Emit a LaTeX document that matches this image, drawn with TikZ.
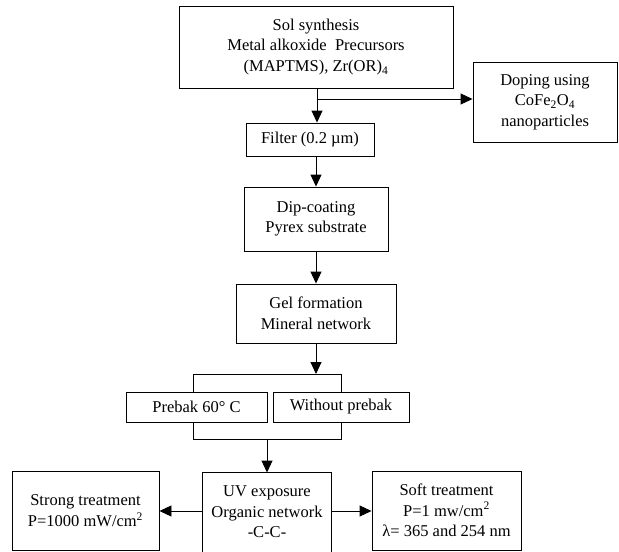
\documentclass[tikz,border=0pt]{standalone}
\usepackage{fontspec}
\setmainfont{Liberation Serif}
\usetikzlibrary{arrows.meta,calc}
\begin{document}
\begin{tikzpicture}[x=1pt,y=-1pt,
  box/.style={draw, line width=0.9pt, inner sep=0pt, align=center, font=\fontsize{16.5}{20.5}\selectfont},
  arr/.style={line width=0.9pt, -{Triangle[length=12pt,width=11pt]}},
  ln/.style={line width=0.9pt}]
\useasboundingbox (0,0) rectangle (619,552);
\node[box, minimum width=274pt, minimum height=82pt] (sol) at (316,47) {Sol synthesis\\Metal alkoxide~~Precursors\\(MAPTMS), Zr(OR)\textsubscript{4}};
\node[box, minimum width=144pt, minimum height=80pt] (dop) at (545,102) {Doping using\\CoFe\textsubscript{2}O\textsubscript{4}\\nanoparticles};
\node[box, minimum width=128pt, minimum height=33pt] (filt) at (310,139.5) {Filter (0.2 µm)};
\node[box, minimum width=144pt, minimum height=64pt] (dip) at (316,219) {Dip-coating\\Pyrex substrate};
\node[box, minimum width=160pt, minimum height=59pt] (gel) at (316,313.5) {Gel formation\\Mineral network};
\node[box, minimum width=141pt, minimum height=30pt] (pre) at (196.5,407) {Prebak 60° C};
\node[box, minimum width=136pt, minimum height=30pt] (wo) at (341,407) {Without prebak};
\node[box, draw=none, minimum width=128pt, minimum height=78pt] (uv) at (267,512) {UV exposure\\Organic network\\-C-C-};
\draw[ln] ($(uv.south west)+(0,4)$) -- (uv.north west) -- (uv.north east) -- ($(uv.south east)+(0,4)$);
\node[box, minimum width=147pt, minimum height=79.6pt] (str) at (85.5,510.8) {Strong treatment\\P=1000 mW/cm\textsuperscript{2}};
\node[box, minimum width=149pt, minimum height=79pt] (soft) at (446.5,510.5) {Soft treatment\\P=1 mw/cm\textsuperscript{2}\\λ= 365 and 254 nm};
% connectors
\coordinate (br) at (317,99);
\coordinate (tl) at (193,374);
\coordinate (tr) at (341,374);
\coordinate (bl) at (193,439);
\coordinate (brr) at (341,439);
\coordinate (bm) at (267,439);
\draw[arr] (sol.south -| br) -- (br |- filt.north);
\draw[arr] (br) -- (br -| dop.west);
\draw[arr] (filt.south -| dip.north) -- (dip.north);
\draw[arr] (dip) -- (gel);
\draw[arr] (gel.south) -- (gel.south |- tl);
\draw[ln] (tl |- pre.north) -- (tl) -- (tr) -- (tr |- wo.north);
\draw[ln] (bl |- pre.south) -- (bl) -- (brr) -- (brr |- wo.south);
\draw[arr] (bm) -- (uv.north);
\draw[arr] (uv.west |- 0,511) -- (str.east |- 0,511);
\draw[arr] (uv.east |- 0,511) -- (soft.west |- 0,511);
\end{tikzpicture}
\end{document}
